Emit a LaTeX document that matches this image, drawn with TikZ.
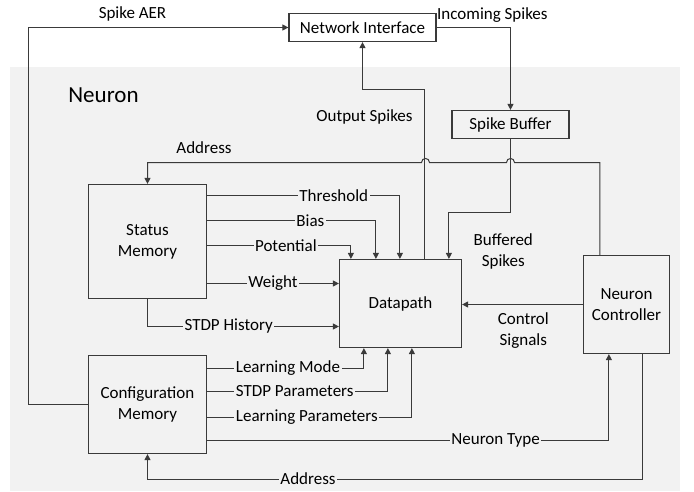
\documentclass[tikz,border=0pt]{standalone}
\usepackage{fontspec}
\setmainfont{Carlito}
\usetikzlibrary{arrows.meta,calc}
\definecolor{bgc}{HTML}{F2F2F2}
\definecolor{lnc}{HTML}{3A3A3A}
\begin{document}
\begin{tikzpicture}[x=1pt,y=-1pt,
  font=\fontsize{17}{21}\selectfont,
  box/.style={draw=lnc, line width=1.2pt, fill=bgc, inner sep=0pt, align=center},
  ln/.style={draw=lnc, line width=1pt},
  arr/.style={ln, -{Triangle[length=6pt,width=6pt]}},
  lbl/.style={fill=bgc, inner xsep=1.5pt, inner ysep=0pt, text=black},
  txt/.style={text=black, inner sep=0pt, align=center}]
\useasboundingbox (0,0) rectangle (694,491);
\fill[bgc] (10,66.7) rectangle (680,491);

% nodes
\node[box, fill=white, minimum width=147pt, minimum height=28pt] (ni) at (362.5,27.5) {Network Interface};
\node[box, minimum width=117pt, minimum height=28pt] (sb) at (510.5,124.5) {Spike Buffer};
\node[box, minimum width=118pt, minimum height=114pt] (st) at (147.5,241.5) {Status\\Memory};
\node[box, minimum width=122pt, minimum height=88pt] (dp) at (400.5,303.5) {Datapath};
\node[box, minimum width=86pt, minimum height=98pt] (nc) at (626.5,304.5) {Neuron\\Controller};
\node[box, minimum width=118pt, minimum height=98pt] (cf) at (147.5,404.5) {Configuration\\Memory};

% free labels
\node[txt, font=\fontsize{23}{27}\selectfont] (lneu) at (103.5,95) {Neuron};
\node[txt] (lspk) at (132.5,14) {Spike AER};
\node[txt, anchor=west] (linc) at (437,15) {Incoming Spikes};
\node[txt] (lout) at (364.5,116.7) {Output Spikes};
\node[txt] (lbuf) at (503.3,251.2) {Buffered\\Spikes};
\node[txt] (lctl) at (523.3,331) {Control\\Signals};
\node[txt] (ladr) at (204,147.3) {Address};

% connectors
\draw[arr] (cf.west) -- ++(-59,0) |- (ni.west);
\draw[arr] (ni.east) -| (sb.north);
\draw[arr] ($(dp.north west)+(86,0)$) -- ++(0,-169) -| (ni.south);
\draw[arr] (sb.south) -- ++(0,73) -| ($(dp.north west)+(110,0)$);
\draw[arr] ($(nc.north west)+(17,0)$) |- (514.5,162.5)
  .. controls (514.5,157.17) and (506.5,157.17) .. (506.5,162.5) -- (429.5,162.5)
  .. controls (429.5,157.17) and (421.5,157.17) .. (421.5,162.5) -| (st.north);

\draw[arr] ($(st.north east)+(0,12)$) -| node[lbl,pos=.3286]{Threshold} ($(dp.north west)+(61,0)$);
\draw[arr] ($(st.north east)+(0,37)$) -| node[lbl,pos=.306]{Bias} ($(dp.north west)+(37,0)$);
\draw[arr] ($(st.north east)+(0,62)$) -| node[lbl,pos=.274]{Potential} ($(dp.north west)+(12,0)$);
\draw[arr] (st.east |- 0,283.5) -- node[lbl]{Weight} (dp.west |- 0,283.5);
\draw[arr] (st.south) |- node[lbl,pos=.712]{STDP History} (dp.west |- 0,326.5);

\draw[arr] (cf.east |- 0,368.5) -| node[lbl,pos=.0854,anchor=west]{Learning Mode} ($(dp.south west)+(25,0)$);
\draw[arr] (cf.east |- 0,391.5) -| node[lbl,pos=.0742,anchor=west]{STDP Parameters} ($(dp.south west)+(49,0)$);
\draw[arr] (cf.east |- 0,417.5) -| node[lbl,pos=.0655,anchor=west]{Learning Parameters} ($(dp.south west)+(73,0)$);
\draw[arr] (cf.east |- 0,440.5) -| node[lbl,pos=.359]{Neuron Type} ($(nc.south west)+(26,0)$);
\draw[arr] ($(nc.south west)+(60,0)$) -- ++(0,125) -| node[lbl,pos=.338]{Address} (cf.south);
\draw[arr] (nc.west) -- (dp.east |- nc.west);
\end{tikzpicture}
\end{document}
